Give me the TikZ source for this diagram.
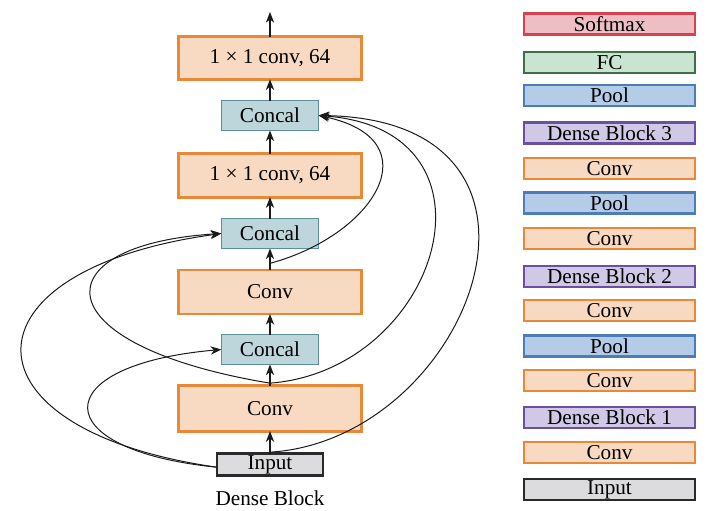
\documentclass[tikz,border=0pt]{standalone}
\usepackage{fontspec}
\setmainfont{Liberation Serif}
\usetikzlibrary{arrows.meta}
\definecolor{orB}{HTML}{E8893A}
\definecolor{orF}{HTML}{F8D9C2}
\definecolor{ccB}{HTML}{5E8E99}
\definecolor{ccF}{HTML}{BDD6DB}
\definecolor{inF}{HTML}{DCDCDE}
\definecolor{inB}{HTML}{2A2A2A}
\definecolor{smB}{HTML}{D8414E}
\definecolor{smF}{HTML}{EDBEC3}
\definecolor{fcB}{HTML}{3E6E4C}
\definecolor{fcF}{HTML}{C9E4D0}
\definecolor{plB}{HTML}{4D7DB8}
\definecolor{plF}{HTML}{B5CCE8}
\definecolor{dbB}{HTML}{6A50A0}
\definecolor{dbF}{HTML}{D0C8E4}
\definecolor{lineC}{HTML}{1A1A1A}
\begin{document}
\begin{tikzpicture}[x=0.75pt,y=-0.75pt,
  font=\fontsize{15.9}{18}\selectfont,
  base/.style={draw, inner sep=0pt, outer sep=0pt},
  convL/.style={base, draw=orB, fill=orF, line width=2.2pt, minimum width=137pt},
  concal/.style={base, draw=ccB, fill=ccF, line width=1pt, minimum width=73pt, minimum height=22.5pt},
  inputL/.style={base, draw=inB, fill=inF, line width=1.6pt, minimum width=80pt, minimum height=16.5pt},
  rbox/.style={base, line width=1.8pt, minimum width=128pt, minimum height=16pt},
  rconv/.style={rbox, draw=orB, fill=orF},
  rsoft/.style={rbox, draw=smB, fill=smF},
  rfc/.style={rbox, draw=fcB, fill=fcF},
  rpool/.style={rbox, draw=plB, fill=plF},
  rdense/.style={rbox, draw=dbB, fill=dbF},
  rin/.style={rbox, draw=inB, fill=inF},
  flow/.style={draw=lineC, line width=1pt, -{Stealth[length=8pt, width=6.2pt, inset=2.5pt]}},
  skip/.style={draw=lineC, line width=0.75pt, -{Stealth[length=8pt, width=6.2pt, inset=2.5pt]}}
]
\useasboundingbox (0,0) rectangle (708,511);

% left column: dense block
\node[convL, minimum height=32pt] (f2) at (270,58) {1 × 1 conv, 64};
\node[concal] (k3) at (270,115.5) {Concal};
\node[convL, minimum height=32.5pt] (f1) at (270,175.5) {1 × 1 conv, 64};
\node[concal] (k2) at (270,233.5) {Concal};
\node[convL, minimum height=33pt] (c2) at (270,292) {Conv};
\node[concal] (k1) at (270,349.5) {Concal};
\node[convL, minimum height=34pt] (c1) at (270,408.5) {Conv};
\node[inputL] (in) at (270,464.5) {Input};
\node (lbl) at (270,498) {Dense Block};
\coordinate (out) at (270,12);

% vertical flow
\draw[flow] (in.north) -- (c1.south);
\draw[flow] (c1.north) -- (k1.south);
\draw[flow] (k1.north) -- (c2.south);
\draw[flow] (c2.north) -- (k2.south);
\draw[flow] (k2.north) -- (f1.south);
\draw[flow] (f1.north) -- (k3.south);
\draw[flow] (k3.north) -- (f2.south);
\draw[flow] (f2.north) -- (out);

% skip connections, left
\draw[skip] ([yshift=-2pt]in.west) .. controls (-44,430) and (-44,270) .. (k2.west);
\draw[skip] ([yshift=-2pt]in.west) .. controls (45,450) and (45,365) .. (k1.west);
\draw[skip] ([yshift=2pt]c1.north) .. controls (40,345) and (40,245) .. (k2.west);

% skip connections, right
\draw[skip] ([yshift=5pt]c2.north) .. controls (375,235) and (433,140) .. (k3.east);
\draw[skip] ([yshift=2pt]c1.north) .. controls (440,370) and (512,130) .. (k3.east);
\draw[skip] ([yshift=1pt]in.north) .. controls (470,440) and (592,120) .. (k3.east);

% right column: overall network
\node[rsoft] (r14) at (609.5,24) {Softmax};
\node[rfc] (r13) at (609.5,62.5) {FC};
\node[rpool] (r12) at (609.5,95.5) {Pool};
\node[rdense] (r11) at (609.5,133) {Dense Block 3};
\node[rconv] (r10) at (609.5,168.5) {Conv};
\node[rpool] (r9) at (609.5,203) {Pool};
\node[rconv] (r8) at (609.5,238.5) {Conv};
\node[rdense] (r7) at (609.5,276.5) {Dense Block 2};
\node[rconv] (r6) at (609.5,310.5) {Conv};
\node[rpool] (r5) at (609.5,346) {Pool};
\node[rconv] (r4) at (609.5,380.5) {Conv};
\node[rdense] (r3) at (609.5,417.5) {Dense Block 1};
\node[rconv] (r2) at (609.5,452.5) {Conv};
\node[rin] (r1) at (609.5,489.5) {Input};
\end{tikzpicture}
\end{document}
